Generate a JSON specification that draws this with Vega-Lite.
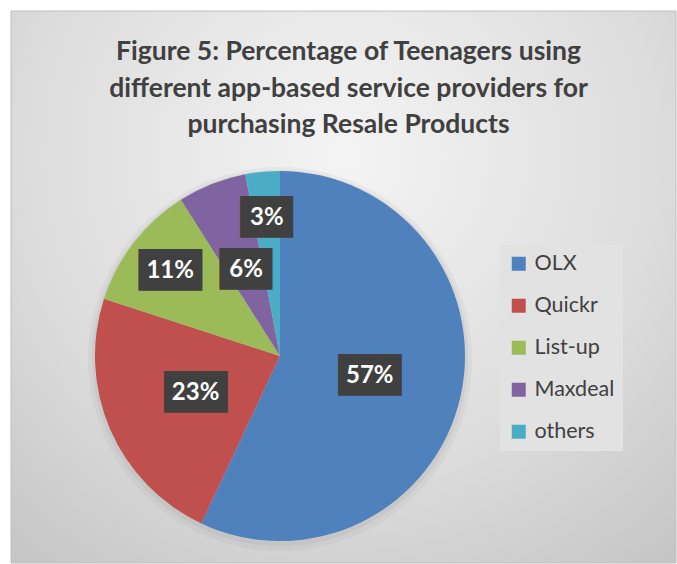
{
  "$schema": "https://vega.github.io/schema/vega-lite/v6.json",
  "width": 677,
  "height": 564,
  "autosize": {"type": "fit", "contains": "padding"},
  "padding": {"left": 10, "top": 10, "right": 0, "bottom": 0},
  "background": "white",
  "config": {"view": {"stroke": null}},
  "title": {
    "text": ["Figure 5: Percentage of Teenagers using", "different app-based service providers for", "purchasing Resale Products"],
    "font": "Lato",
    "fontSize": 26.5,
    "fontWeight": "bold",
    "color": "#404040",
    "lineHeight": 36.5,
    "anchor": "middle",
    "offset": -128,
    "dx": 5
  },
  "data": {
    "values": [
      {"provider": "OLX", "pct": 0.57},
      {"provider": "Quickr", "pct": 0.23},
      {"provider": "List-up", "pct": 0.11},
      {"provider": "Maxdeal", "pct": 0.06},
      {"provider": "others", "pct": 0.03}
    ]
  },
  "layer": [
    {
      "data": {"values": [{}]},
      "mark": {
        "type": "rect",
        "color": {
          "gradient": "radial",
          "x1": 0.5, "y1": 0.3, "r1": 0,
          "x2": 0.5, "y2": 0.3, "r2": 0.8,
          "stops": [
            {"offset": 0, "color": "#f4f4f4"},
            {"offset": 0.6, "color": "#dcdcdc"},
            {"offset": 1, "color": "#c4c4c4"}
          ]
        },
        "stroke": "#bfbfbf",
        "strokeWidth": 1
      },
      "encoding": {}
    },
    {
      "mark": {"type": "arc", "outerRadius": 192, "xOffset": -63.5, "yOffset": 72, "color": "#808080", "opacity": 0.08},
      "encoding": {
        "theta": {"field": "pct", "type": "quantitative", "stack": true},
        "order": {"field": "pct", "sort": "descending"}
      }
    },
    {
      "mark": {"type": "arc", "outerRadius": 188, "xOffset": -63.5, "yOffset": 71, "color": "#808080", "opacity": 0.1},
      "encoding": {
        "theta": {"field": "pct", "type": "quantitative", "stack": true},
        "order": {"field": "pct", "sort": "descending"}
      }
    },
    {
      "mark": {"type": "arc", "outerRadius": 185, "xOffset": -63.5, "yOffset": 69},
      "encoding": {
        "theta": {"field": "pct", "type": "quantitative", "stack": true},
        "order": {"field": "pct", "sort": "descending"},
        "color": {
          "field": "provider",
          "type": "nominal",
          "sort": null,
          "scale": {
            "domain": ["OLX", "Quickr", "List-up", "Maxdeal", "others"],
            "range": ["#4f81bd", "#c0504d", "#9bbb59", "#8064a2", "#4bacc6"]
          },
          "legend": {
            "title": null,
            "orient": "none",
            "legendX": 489,
            "legendY": 234,
            "symbolType": "square",
            "symbolSize": 196,
            "symbolStrokeWidth": 0,
            "labelFont": "Lato",
            "labelFontSize": 21.5,
            "labelColor": "#404040",
            "labelOffset": 5,
            "rowPadding": 19,
            "padding": 8,
            "fillColor": "#e2e2e2"
          }
        }
      }
    },
    {
      "mark": {"type": "text", "radius": 92, "xOffset": -63.5, "yOffset": 69, "font": "DejaVu Sans Mono", "fontSize": 35, "color": "#404040", "align": "center", "baseline": "middle", "text": "███"},
      "encoding": {
        "theta": {"field": "pct", "type": "quantitative", "stack": true},
        "order": {"field": "pct", "sort": "descending"},
        "opacity": {"condition": {"test": "datum.provider === 'OLX' || datum.provider === 'Quickr'", "value": 1}, "value": 0}
      }
    },
    {
      "mark": {"type": "text", "radius": 92, "xOffset": -63.5, "yOffset": 69, "dx": 5, "font": "DejaVu Sans Mono", "fontSize": 35, "color": "#404040", "align": "center", "baseline": "middle", "text": "██▌"},
      "encoding": {
        "theta": {"field": "pct", "type": "quantitative", "stack": true},
        "order": {"field": "pct", "sort": "descending"},
        "opacity": {"condition": {"test": "datum.provider === 'Maxdeal'", "value": 1}, "value": 0}
      }
    },
    {
      "mark": {"type": "text", "radius": 139, "xOffset": -63.5, "yOffset": 69, "font": "DejaVu Sans Mono", "fontSize": 35, "color": "#404040", "align": "center", "baseline": "middle", "text": "███"},
      "encoding": {
        "theta": {"field": "pct", "type": "quantitative", "stack": true},
        "order": {"field": "pct", "sort": "descending"},
        "opacity": {"condition": {"test": "datum.provider === 'List-up'", "value": 1}, "value": 0}
      }
    },
    {
      "mark": {"type": "text", "radius": 139, "xOffset": -63.5, "yOffset": 69, "dx": 5, "font": "DejaVu Sans Mono", "fontSize": 35, "color": "#404040", "align": "center", "baseline": "middle", "text": "██▌"},
      "encoding": {
        "theta": {"field": "pct", "type": "quantitative", "stack": true},
        "order": {"field": "pct", "sort": "descending"},
        "opacity": {"condition": {"test": "datum.provider === 'others'", "value": 1}, "value": 0}
      }
    },
    {
      "mark": {"type": "text", "radius": 92, "xOffset": -63.5, "yOffset": 69, "font": "Lato", "fontSize": 24, "fontWeight": "bold", "color": "white", "align": "center", "baseline": "middle"},
      "encoding": {
        "theta": {"field": "pct", "type": "quantitative", "stack": true},
        "order": {"field": "pct", "sort": "descending"},
        "text": {"field": "pct", "type": "quantitative", "format": ".0%"},
        "opacity": {"condition": {"test": "datum.provider === 'List-up' || datum.provider === 'others'", "value": 0}, "value": 1}
      }
    },
    {
      "mark": {"type": "text", "radius": 139, "xOffset": -63.5, "yOffset": 69, "font": "Lato", "fontSize": 24, "fontWeight": "bold", "color": "white", "align": "center", "baseline": "middle"},
      "encoding": {
        "theta": {"field": "pct", "type": "quantitative", "stack": true},
        "order": {"field": "pct", "sort": "descending"},
        "text": {"field": "pct", "type": "quantitative", "format": ".0%"},
        "opacity": {"condition": {"test": "datum.provider === 'List-up' || datum.provider === 'others'", "value": 1}, "value": 0}
      }
    }
  ]
}
